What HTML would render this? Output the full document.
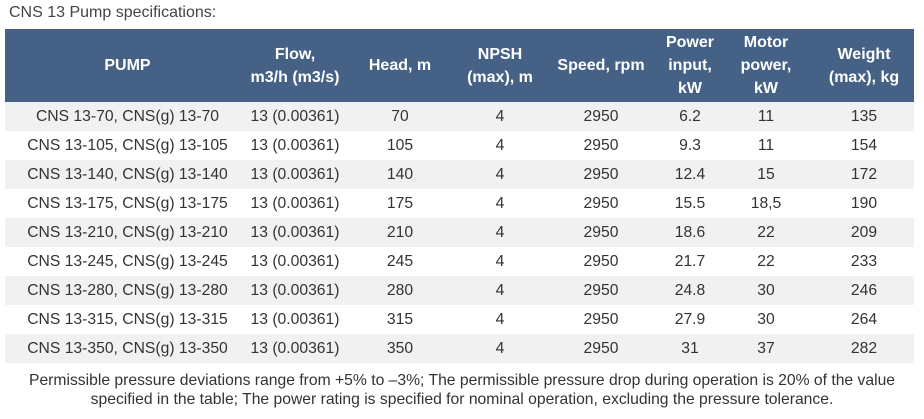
<!DOCTYPE html>
<html><head><style>
body{margin:0;width:924px;height:419px;background:#fff;font-family:"Liberation Sans",Arial,sans-serif;color:#333;position:relative;overflow:hidden}
.t{position:absolute;left:9px;top:4px;font-size:16px;color:#444}
table{position:absolute;left:5px;top:29px;border-collapse:collapse;table-layout:fixed;width:909px}
th{background:#456286;color:#fff;font-weight:bold;font-size:16px;line-height:23px;height:73px;padding:0;text-align:center}
td{height:29px;padding:0;text-align:center;font-size:15.7px;color:#333}
tr.g td{background:#f1f1f1}
.f{position:absolute;left:0;width:924px;top:371px;text-align:center;font-size:15.7px;line-height:19px;color:#333}
</style></head><body>
<div class="t">CNS 13 Pump specifications:</div>
<table>
<colgroup><col style="width:245px"><col style="width:90px"><col style="width:120px"><col style="width:80px"><col style="width:122px"><col style="width:56px"><col style="width:96px"><col style="width:100px"></colgroup>
<tr><th>PUMP</th><th>Flow,<br>m3/h (m3/s)</th><th>Head, m</th><th>NPSH<br>(max), m</th><th>Speed, rpm</th><th>Power<br>input,<br>kW</th><th>Motor<br>power,<br>kW</th><th>Weight<br>(max), kg</th></tr>
<tr class="g"><td>CNS 13-70, CNS(g) 13-70</td><td>13 (0.00361)</td><td>70</td><td>4</td><td>2950</td><td>6.2</td><td>11</td><td>135</td></tr>
<tr><td>CNS 13-105, CNS(g) 13-105</td><td>13 (0.00361)</td><td>105</td><td>4</td><td>2950</td><td>9.3</td><td>11</td><td>154</td></tr>
<tr class="g"><td>CNS 13-140, CNS(g) 13-140</td><td>13 (0.00361)</td><td>140</td><td>4</td><td>2950</td><td>12.4</td><td>15</td><td>172</td></tr>
<tr><td>CNS 13-175, CNS(g) 13-175</td><td>13 (0.00361)</td><td>175</td><td>4</td><td>2950</td><td>15.5</td><td>18,5</td><td>190</td></tr>
<tr class="g"><td>CNS 13-210, CNS(g) 13-210</td><td>13 (0.00361)</td><td>210</td><td>4</td><td>2950</td><td>18.6</td><td>22</td><td>209</td></tr>
<tr><td>CNS 13-245, CNS(g) 13-245</td><td>13 (0.00361)</td><td>245</td><td>4</td><td>2950</td><td>21.7</td><td>22</td><td>233</td></tr>
<tr class="g"><td>CNS 13-280, CNS(g) 13-280</td><td>13 (0.00361)</td><td>280</td><td>4</td><td>2950</td><td>24.8</td><td>30</td><td>246</td></tr>
<tr><td>CNS 13-315, CNS(g) 13-315</td><td>13 (0.00361)</td><td>315</td><td>4</td><td>2950</td><td>27.9</td><td>30</td><td>264</td></tr>
<tr class="g"><td>CNS 13-350, CNS(g) 13-350</td><td>13 (0.00361)</td><td>350</td><td>4</td><td>2950</td><td>31</td><td>37</td><td>282</td></tr>
</table>
<div class="f">Permissible pressure deviations range from +5% to –3%; The permissible pressure drop during operation is 20% of the value<br>specified in the table; The power rating is specified for nominal operation, excluding the pressure tolerance.</div>
</body></html>
